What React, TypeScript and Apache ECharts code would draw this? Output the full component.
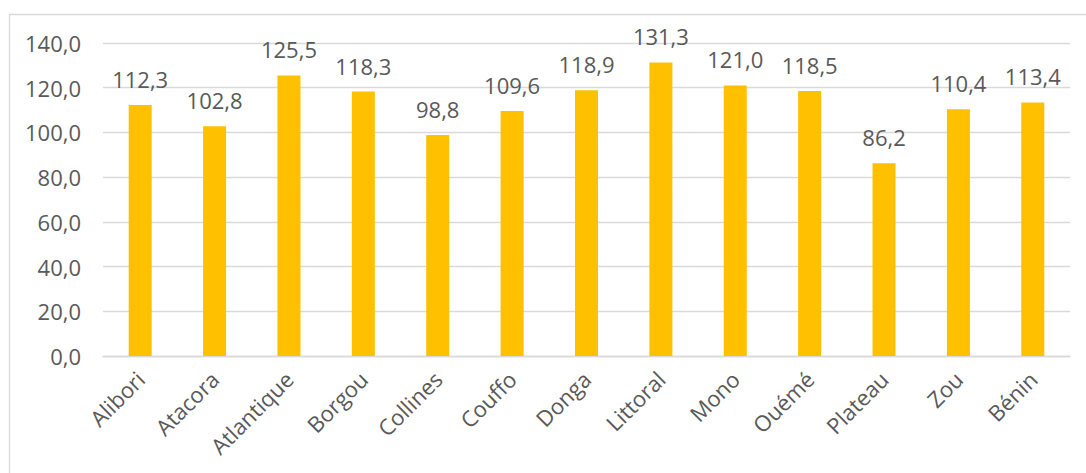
import React, { useEffect, useRef } from "react";
import * as echarts from "echarts";

const categories = [
  "Alibori", "Atacora", "Atlantique", "Borgou", "Collines", "Couffo", "Donga",
  "Littoral", "Mono", "Ouémé", "Plateau", "Zou", "Bénin",
];
const values = [112.3, 102.8, 125.5, 118.3, 98.8, 109.6, 118.9, 131.3, 121.0, 118.5, 86.2, 110.4, 113.4];
const yTicks = { min: 0, max: 140, interval: 20 };

const fmt = (v: number) => v.toFixed(1).replace(".", ",");
const FONT = "'Open Sans', 'Noto Sans', sans-serif";
const TEXT = "#595959";
const FS = 22;

export default function App() {
  const ref = useRef<HTMLDivElement>(null);
  useEffect(() => {
    if (!ref.current) return;
    const chart = echarts.init(ref.current, undefined, { renderer: "svg" });
    chart.setOption({
      animation: false,
      backgroundColor: "#ffffff",
      textStyle: { fontFamily: FONT },
      graphic: [
        {
          type: "rect",
          shape: { x: 9.5, y: 14.5, width: 1200, height: 600 },
          style: { fill: "none", stroke: "#D9D9D9", lineWidth: 1.3 },
          silent: true,
          z: -1,
        },
      ],
      grid: { left: 103, right: 16, top: 43, bottom: 117, containLabel: false },
      xAxis: {
        type: "category",
        data: categories,
        axisLine: { lineStyle: { color: "#D9D9D9", width: 1.3 } },
        axisTick: { show: false },
        axisLabel: {
          rotate: 45,
          margin: 19,
          color: TEXT,
          fontSize: FS,
          fontFamily: FONT,
          interval: 0,
        },
      },
      yAxis: {
        type: "value",
        min: yTicks.min,
        max: yTicks.max,
        interval: yTicks.interval,
        axisLine: { show: false },
        axisTick: { show: false },
        splitLine: { lineStyle: { color: "#D9D9D9", width: 1.3 } },
        axisLabel: {
          margin: 22,
          color: TEXT,
          fontSize: FS,
          fontFamily: FONT,
          formatter: (v: number) => fmt(v),
        },
      },
      series: [
        {
          type: "bar",
          data: values,
          barWidth: 23,
          itemStyle: { color: "#FFC000" },
          label: {
            show: true,
            position: "top",
            distance: 15,
            color: TEXT,
            fontSize: FS,
            fontFamily: FONT,
            formatter: (p: any) => fmt(p.value),
          },
        },
      ],
    });
    return () => chart.dispose();
  }, []);
  return (
    <div
      ref={ref}
      style={{ position: "absolute", left: 0, top: 0, width: 1086, height: 473 }}
    />
  );
}
